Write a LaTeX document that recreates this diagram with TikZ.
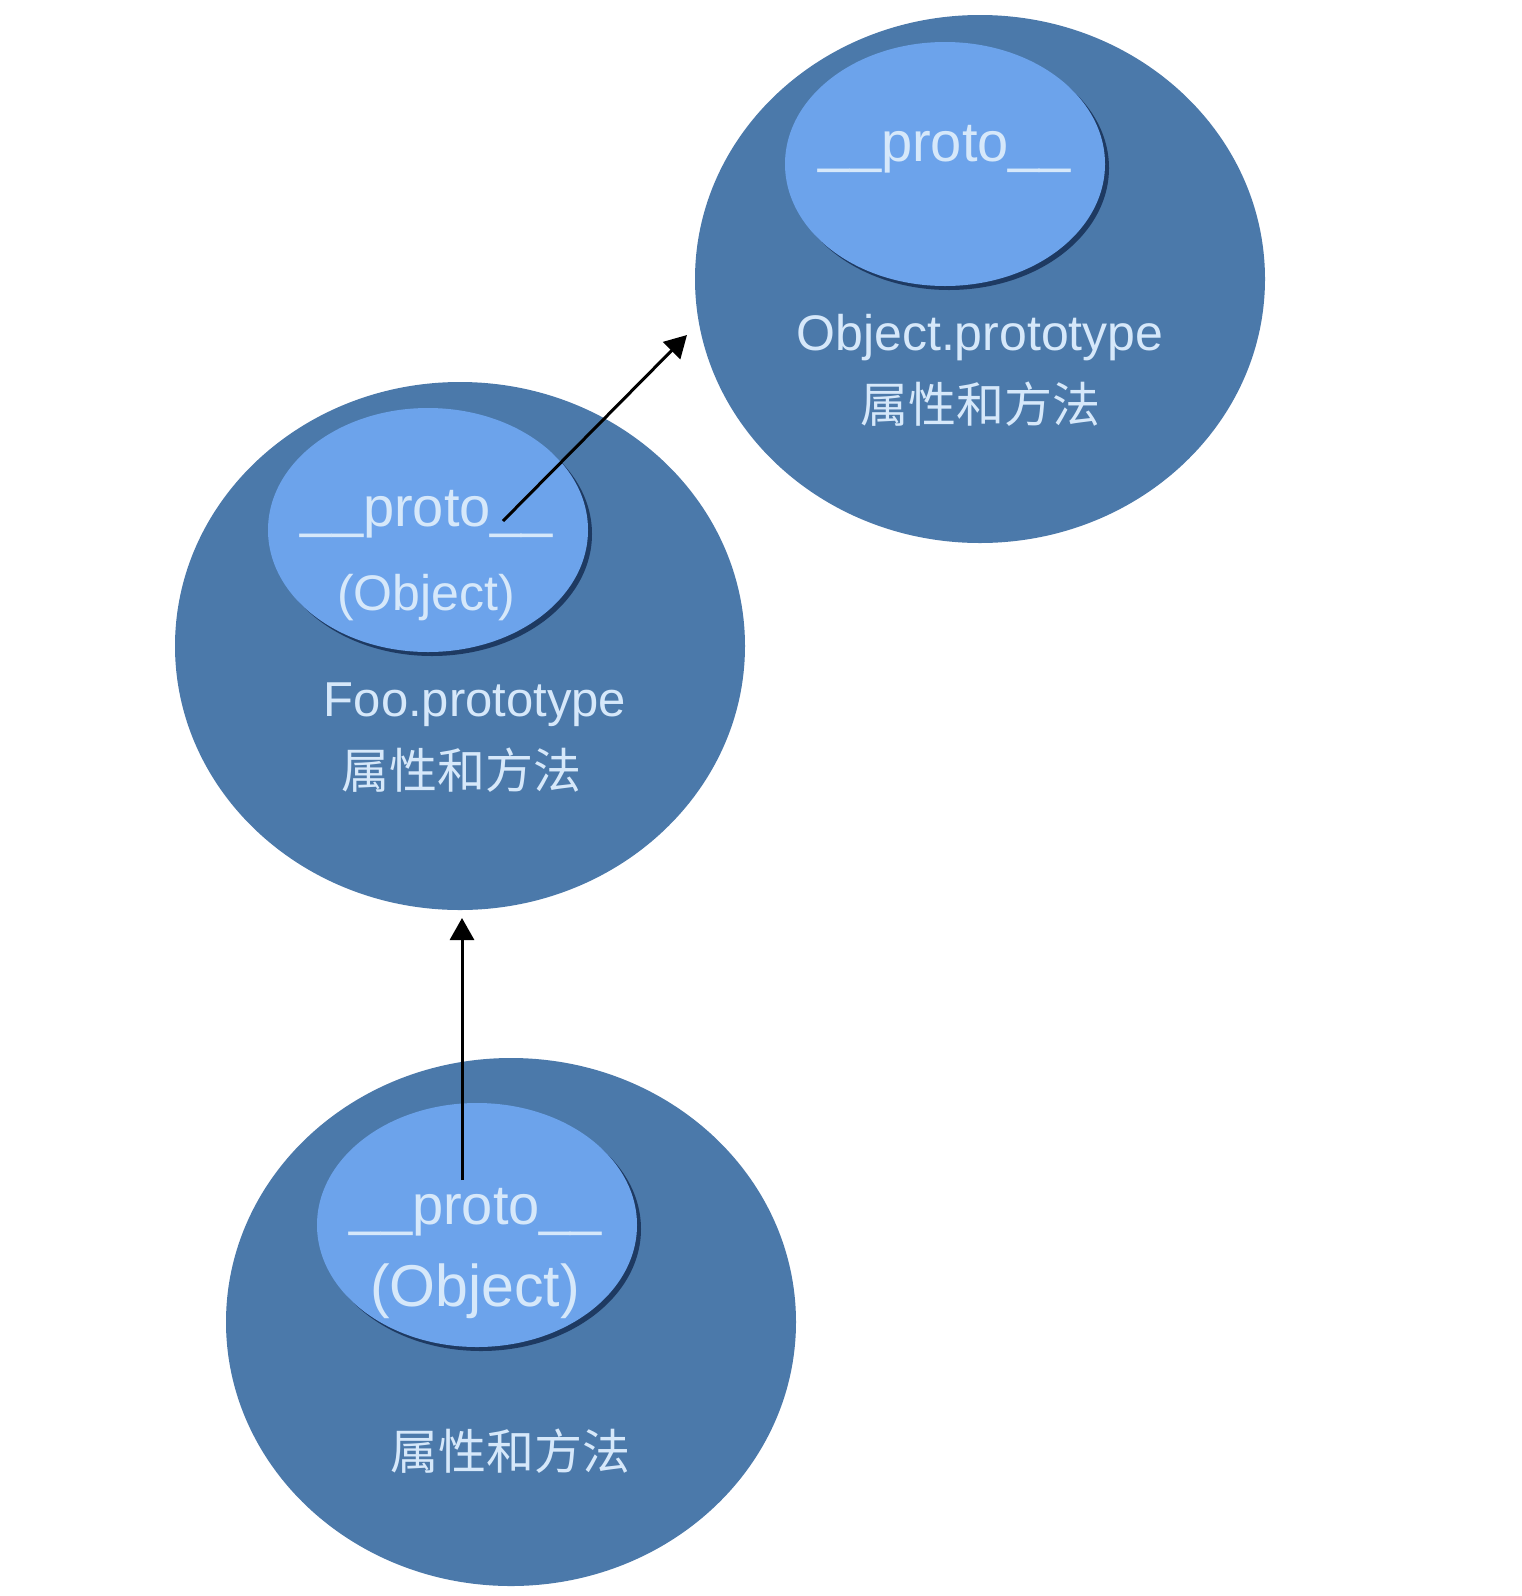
\documentclass[tikz,border=0pt]{standalone}
\usepackage{fontspec}
\setmainfont{Liberation Sans}
\newfontfamily\cjk{Noto Sans CJK SC}
\usetikzlibrary{shapes.geometric,arrows.meta}
\definecolor{outerblue}{RGB}{75,121,170}
\definecolor{innerblue}{RGB}{108,163,235}
\definecolor{shadowblue}{RGB}{30,58,98}
\definecolor{txt}{RGB}{214,232,250}
\begin{document}
\begin{tikzpicture}[x=1pt,y=-1pt,
  outer/.style={ellipse,fill=outerblue,minimum width=570pt,minimum height=528pt,inner sep=0pt},
  innerell/.style={ellipse,fill=innerblue,minimum width=320pt,minimum height=244pt,inner sep=0pt},
  shadowell/.style={ellipse,fill=shadowblue,minimum width=320pt,minimum height=244pt,inner sep=0pt},
  lbl/.style={text=txt,inner sep=0pt,anchor=base},
  cn/.style={text=txt,inner sep=0pt,font=\cjk\fontsize{48}{52}\selectfont},
  arr/.style={draw=black,line width=3pt,-{Triangle[length=22pt,width=24pt]}}]
\fill[white] (0,0) rectangle (1522,1596);
\useasboundingbox (0,0) rectangle (1522,1596);
% outer circles
\node[outer] (objp) at (980,279) {};
\node[outer] (foop) at (460,646) {};
\node[outer] (inst) at (511,1322) {};
% inner ellipse shadows
\node[shadowell] (s1) at (949,168) {};
\node[shadowell] (s2) at (432,534) {};
\node[shadowell] (s3) at (481,1229) {};
% inner ellipses
\node[innerell] (i1) at (945,164) {};
\node[innerell] (i2) at (428,530) {};
\node[innerell] (i3) at (477,1225) {};
% texts top
\node[lbl,font=\fontsize{56}{60}\selectfont] (p1) at (945,161) {\_\_proto\_\_};
\node[lbl,font=\fontsize{50}{54}\selectfont] (n1) at (980,350) {Object.prototype};
\node[cn] (c1) at (980,404) {属性和方法};
% texts middle
\node[lbl,font=\fontsize{56}{60}\selectfont] (p2) at (427,526) {\_\_proto\_\_};
\node[lbl,font=\fontsize{50}{54}\selectfont] (o2) at (426,610) {(Object)};
\node[lbl,font=\fontsize{49}{53}\selectfont] (n2) at (475,716) {Foo.prototype};
\node[cn] (c2) at (461,770) {属性和方法};
% texts bottom
\node[lbl,font=\fontsize{56}{60}\selectfont] (p3) at (476,1224) {\_\_proto\_\_};
\node[lbl,font=\fontsize{59}{63}\selectfont] (o3) at (475,1306) {(Object)};
\node[cn] (c3) at (510,1451) {属性和方法};
% arrows
\coordinate (a1s) at (503,521);
\coordinate (a1e) at (687,335);
\coordinate (a2s) at (462,1180);
\coordinate (a2e) at (462,918);
\draw[arr] (a1s) -- (a1e);
\draw[arr] (a2s) -- (a2e);
\end{tikzpicture}
\end{document}
